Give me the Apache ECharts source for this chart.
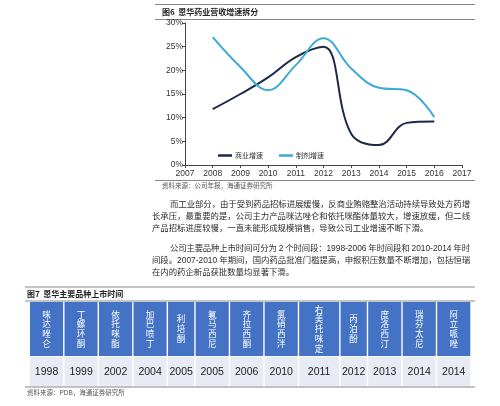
<!DOCTYPE html>
<html><head><meta charset="utf-8">
<script src="https://cdn.jsdelivr.net/npm/echarts/dist/echarts.min.js"></script>
<style>html,body{margin:0;padding:0;background:#fff;}#c{width:500px;height:406px;}</style>
</head><body><div id="c"></div>
<script>
// ---- data ----
const years = ['2007','2008','2009','2010','2011','2012','2013','2014','2015','2016','2017'];
const commerceGrowth = [null, 11.8, 15.0, 18.5, 22.8, 25.0, 6.6, 4.2, 8.9, 9.2, null];
const formulationGrowth = [null, 27.0, 20.7, 15.8, 21.1, 26.8, 20.4, 16.3, 15.8, 10.1, null];
const seriesNames = ['商业增速', '制剂增速'];
const drugNames = ['咪达唑仑','丁螺环酮','依托咪酯','加巴喷丁','利培酮','氟马西尼','齐拉西酮','氯硝西泮','右美托咪定','丙泊酚','度洛西汀','瑞芬太尼','阿立哌唑'];
const launchYears = ['1998','1999','2002','2004','2005','2005','2006','2010','2011','2012','2013','2014','2014'];
const fig6Title = '图6  恩华药业营收增速拆分';
const fig6Source = '资料来源：公司年报，海通证券研究所';
const fig7Title = '图7  恩华主要品种上市时间';
const fig7Source = '资料来源：PDB，海通证券研究所';
const para1 = ['而工业部分，由于受到药品招标进展缓慢，反商业贿赂整治活动持续导致处方药增',
               '长承压，最重要的是，公司主力产品咪达唑仑和依托咪酯体量较大，增速放缓，但二线',
               '产品招标进度较慢，一直未能形成规模销售，导致公司工业增速不断下滑。'];
const para2 = ['公司主要品种上市时间可分为 2 个时间段：1998-2006 年时间段和 2010-2014 年时',
               '间段。2007-2010 年期间，国内药品批准门槛提高，申报积压数量不断增加，包括恒瑞',
               '在内的药企新品获批数量均显著下滑。'];

// ---- helpers ----
const CJK = '"Noto Sans CJK SC"';
const MIX = '"Liberation Sans", "Noto Sans CJK SC"';
const graphics = [];
const mctx = document.createElement('canvas').getContext('2d');
function txt(text, x, y, font, fill, align, valign) {
  graphics.push({type:'text', silent:true, style:{text:text, x:x, y:y, font:font, fill:fill||'#333',
    align:align||'left', verticalAlign:valign||'middle', textAlign:align||'left', textVerticalAlign:valign||'middle'}});
}
function hline(x1, x2, y, color, w) {
  graphics.push({type:'line', silent:true, shape:{x1:x1,y1:y,x2:x2,y2:y}, style:{stroke:color||'#999', lineWidth:w||1}});
}
function rect(x, y, w, h, fill) {
  graphics.push({type:'rect', silent:true, shape:{x:x,y:y,width:w,height:h}, style:{fill:fill}});
}
function tokenize(s) {
  const t = []; let buf = '';
  for (const ch of s) {
    if (/[\x00-\x7F]/.test(ch)) {
      if (ch === ' ') { if (buf) { t.push(buf); buf=''; } t.push(' '); }
      else buf += ch;
    } else { if (buf) { t.push(buf); buf=''; } t.push(ch); }
  }
  if (buf) t.push(buf);
  return t;
}
const PFONT = '8.4px ' + MIX;
function paragraph(lines, firstX, restX, rightX, ys) {
  mctx.font = PFONT;
  let lastGap = 0;
  lines.forEach((line, i) => {
    const x0 = i === 0 ? firstX : restX;
    const toks = tokenize(line);
    const widths = toks.map(t => t === ' ' ? 2.2 : mctx.measureText(t).width);
    const total = widths.reduce((a,b)=>a+b,0);
    const justify = i < lines.length - 1;
    const gap = justify ? (rightX - x0 - total) / (toks.length - 1) : lastGap;
    if (justify) lastGap = gap;
    let x = x0;
    toks.forEach((t, k) => {
      if (t !== ' ') txt(t, x, ys[i], PFONT, '#2b2b2b', 'left', 'middle');
      x += widths[k] + gap;
    });
  });
}

// ---- figure 6 frame ----
hline(155, 475, 4.5, '#8a8a8a', 1);
txt(fig6Title, 162, 12, 'bold 8px ' + CJK, '#222');
hline(155, 475, 19.5, '#8a8a8a', 1);
hline(155, 475, 180.5, '#8a8a8a', 1);
txt(fig6Source, 162, 186, '6.5px ' + CJK, '#555');

// ---- paragraphs ----
paragraph(para1, 170, 152, 470, [205, 217, 229]);
paragraph(para2, 170, 152, 470, [249, 261, 273]);

// ---- figure 7 ----
hline(25, 475, 287, '#8a8a8a', 1);
txt(fig7Title, 27, 294, 'bold 8px ' + CJK, '#222');
hline(25, 475, 301, '#8a8a8a', 1);
const tblLeft = 29.3, tblRight = 471, hdrTop = 302, hdrBot = 356, rowBot = 386.5;
const rawW = drugNames.map(n => 6.9 * n.length + 7);
const sumW = rawW.reduce((a,b)=>a+b,0);
let cx = tblLeft;
drugNames.forEach((name, i) => {
  const w = rawW[i] * (tblRight - tblLeft) / sumW;
  rect(cx + 0.7, hdrTop, w - 1.4, hdrBot - hdrTop, '#4472c4');
  rect(cx + 0.7, hdrBot + 0.8, w - 1.4, rowBot - hdrBot - 0.8, '#e8ebf3');
  const n = name.length, pitch = 9.8, mid = (hdrTop + hdrBot) / 2;
  for (let k = 0; k < n; k++) {
    txt(name[k], cx + w / 2, mid + (k - (n - 1) / 2) * pitch, '8.6px ' + CJK, '#ffffff', 'center', 'middle');
  }
  txt(launchYears[i], cx + w / 2, 372, '10.5px "Liberation Sans", Arial', '#222', 'center', 'middle');
  cx += w;
});
hline(25, 475, 387, '#8a8a8a', 1);
txt(fig7Source, 27, 393, '6.5px ' + MIX, '#555');

// ---- chart ----
const chart = echarts.init(document.getElementById('c'));
chart.setOption({
  animation: false,
  backgroundColor: '#fff',
  grid: {left: 185, top: 23, right: 38, bottom: 241, containLabel: false},
  legend: {
    left: 213, top: 147, itemWidth: 14, itemHeight: 2.5, itemGap: 16, icon: 'rect',
    textStyle: {fontSize: 7, color: '#333', fontFamily: CJK, padding: [0,0,0,-2]},
    data: seriesNames
  },
  xAxis: {
    type: 'category', data: years, boundaryGap: false,
    axisLine: {lineStyle: {color: '#444', width: 1}},
    axisTick: {show: true, length: 3, alignWithLabel: true, lineStyle: {color: '#444'}},
    axisLabel: {fontSize: 8.5, color: '#333', margin: 4, interval: 0, fontFamily: '"Liberation Sans", Arial'},
    splitLine: {show: false}
  },
  yAxis: {
    type: 'value', min: 0, max: 30, interval: 5,
    axisLine: {show: true, lineStyle: {color: '#444', width: 1}},
    axisTick: {show: true, length: 3, lineStyle: {color: '#444'}},
    axisLabel: {fontSize: 8.5, color: '#333', margin: 2, formatter: '{value}%', fontFamily: '"Liberation Sans", Arial'},
    splitLine: {show: false}
  },
  series: [
    {name: seriesNames[0], type: 'line', data: commerceGrowth, smooth: 0.4, showSymbol: false,
     lineStyle: {color: '#1b2847', width: 2}, itemStyle: {color: '#1b2847'}},
    {name: seriesNames[1], type: 'line', data: formulationGrowth, smooth: 0.4, showSymbol: false,
     lineStyle: {color: '#3caad6', width: 2}, itemStyle: {color: '#3caad6'}}
  ],
  graphic: graphics
});
</script></body></html>
